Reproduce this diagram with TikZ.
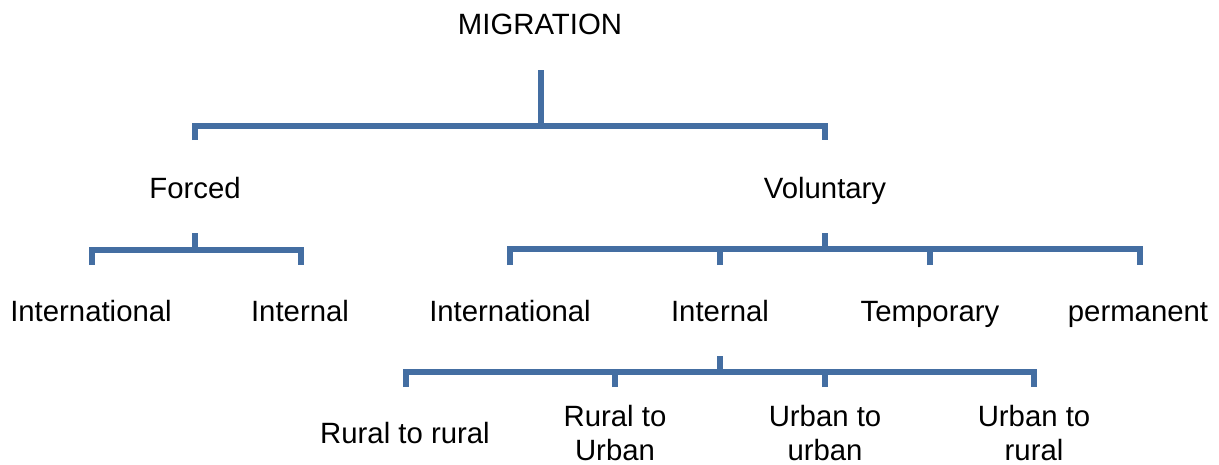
\documentclass[tikz,border=0pt]{standalone}
\usepackage{fontspec}
\setmainfont{Liberation Sans}
\definecolor{brc}{RGB}{68,110,162}
\begin{document}
\begin{tikzpicture}[x=0.75pt,y=-0.75pt,
  br/.style={draw=brc,line width=3.8pt,line join=miter},
  lbltwo/.style={inner sep=0pt,text depth=0pt,align=center,font=\fontsize{22}{25}\selectfont},
  lbl/.style={lbltwo,text height=15.8pt}]
\useasboundingbox (0,0) rectangle (1219,464);
% labels
\node[lbl] (mig) at (540,24) {MIGRATION};
\node[lbl] (forced) at (195,188) {Forced};
\node[lbl] (vol) at (825,188) {Voluntary};
\node[lbl] (fint) at (91,311) {International};
\node[lbl] (fin) at (300,311) {Internal};
\node[lbl] (vint) at (510,311) {International};
\node[lbl] (vin) at (720,311) {Internal};
\node[lbl] (vtmp) at (930,311) {Temporary};
\node[lbl] (vper) at (1138,311) {permanent};
\node[lbl] (rr) at (405,433) {Rural to rural};
\node[lbltwo] (ru) at (615,433) {Rural to\\Urban};
\node[lbltwo] (uu) at (825,433) {Urban to\\urban};
\node[lbltwo] (ur) at (1034,433) {Urban to\\rural};
% level 1 bracket
\coordinate (a0) at (541,70);
\coordinate (a1) at (541,126);
\coordinate (al) at (195,140);
\coordinate (ar) at (825,140);
\draw[br] (a0) -- (a1);
\draw[br] (al) |- (a1) -| (ar);
% forced bracket
\coordinate (f0) at (195,233);
\coordinate (f1) at (195,250);
\coordinate (fl) at (92,265);
\coordinate (fr) at (301,265);
\draw[br] (f0) -- (f1);
\draw[br] (fl) |- (f1) -| (fr);
% voluntary bracket
\coordinate (v0) at (825,233);
\coordinate (v1) at (825,249);
\coordinate (v2) at (510,265);
\coordinate (v3) at (720,265);
\coordinate (v4) at (930,265);
\coordinate (v5) at (1140,265);
\draw[br] (v0) -- (v1);
\draw[br] (v2) |- (v1) -| (v5);
\draw[br] (v3) -- (v3 |- v1);
\draw[br] (v4) -- (v4 |- v1);
% internal bracket
\coordinate (i0) at (720,356);
\coordinate (i1) at (720,372);
\coordinate (i2) at (406,387);
\coordinate (i3) at (615,387);
\coordinate (i4) at (825,387);
\coordinate (i5) at (1034,387);
\draw[br] (i0) -- (i1);
\draw[br] (i2) |- (i1) -| (i5);
\draw[br] (i3) -- (i3 |- i1);
\draw[br] (i4) -- (i4 |- i1);
\end{tikzpicture}
\end{document}
